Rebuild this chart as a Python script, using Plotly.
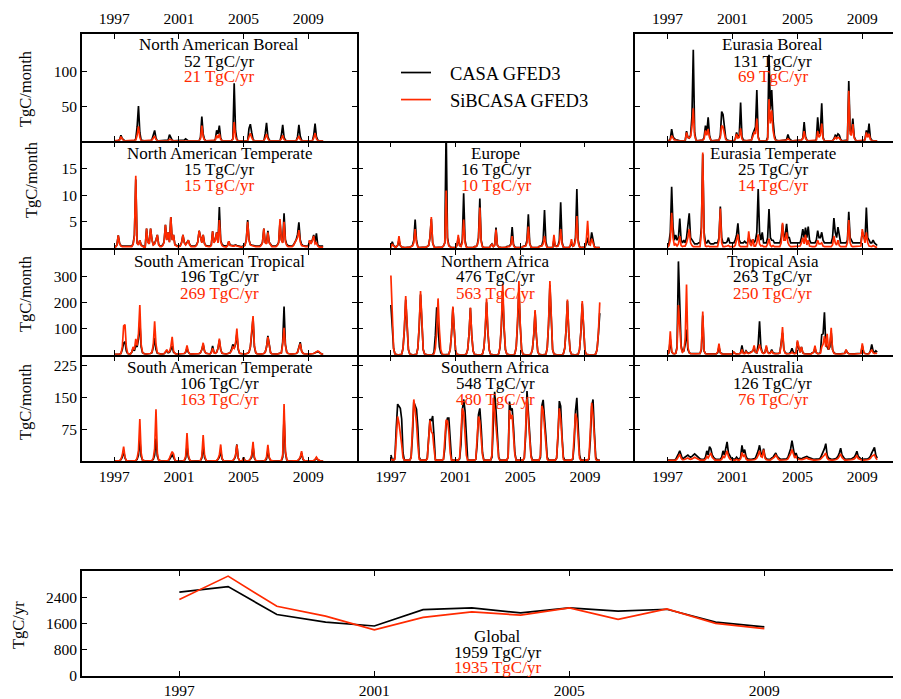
import numpy as np
import plotly.graph_objects as go

# the page body adds an 8px margin, so the figure is drawn 8px in from the window corner
OFF = 8
WIN_W, WIN_H = 901, 699
W, H = WIN_W - OFF, WIN_H - OFF
FONT = "Liberation Serif"
BLACK = "#000000"
RED = "#ff2a00"
LW = 1.7

START_YEAR = 1997
N_YEARS = 13
YEAR_TICKS = [1997, 2001, 2005, 2009]

# ---------------- monthly data (TgC/month), one row per year 1997..2009 ----------------
NAB_CASA = [
    [0,0,0,0,2,8,3,1,0,0,0,0],
    [0,0,0,0,3,20,50,12,1,0,0,0],
    [0,0,0,0,2,10,15,4,0,0,0,0],
    [0,0,0,0,1,9,5,1,0,0,0,0],
    [0,0,0,0,1,3,1,0,0,0,0,0],
    [0,0,0,0,5,35,10,2,0,0,0,0],
    [0,0,0,2,15,10,22,4,0,0,0,0],
    [0,0,0,0,3,83,15,2,0,0,0,0],
    [0,0,0,0,18,24,12,2,0,0,0,0],
    [0,0,0,0,10,26,6,1,0,0,0,0],
    [0,0,0,0,8,23,5,1,0,0,0,0],
    [0,0,0,0,6,23,7,1,0,0,0,0],
    [0,0,0,0,8,25,6,1,0,0,0,0]]
NAB_SIB = [
    [0,0,0,0,1,6,2,0,0,0,0,0],
    [0,0,0,0,1,8,21,5,0,0,0,0],
    [0,0,0,0,1,4,7,2,0,0,0,0],
    [0,0,0,0,0,2,1,0,0,0,0,0],
    [0,0,0,0,0,1,0,0,0,0,0,0],
    [0,0,0,0,3,22,6,1,0,0,0,0],
    [0,0,0,1,8,4,10,2,0,0,0,0],
    [0,0,0,0,2,27,6,1,0,0,0,0],
    [0,0,0,0,6,11,5,1,0,0,0,0],
    [0,0,0,0,4,10,3,0,0,0,0,0],
    [0,0,0,0,3,8,2,0,0,0,0,0],
    [0,0,0,0,3,7,2,0,0,0,0,0],
    [0,0,0,0,4,11,3,0,0,0,0,0]]

EAB_CASA = [
    [0,0,3,17,6,3,2,1,0,0,0,0],
    [0,0,14,5,4,8,35,131,12,1,0,0],
    [0,0,1,5,22,12,34,8,1,0,0,0],
    [0,0,1,8,42,38,15,4,1,0,0,0],
    [0,0,2,12,6,8,55,6,1,0,0,0],
    [0,0,1,10,16,20,73,6,0,0,0,0],
    [0,0,5,124,45,73,30,8,1,0,0,0],
    [0,0,0,1,2,9,3,1,0,0,0,0],
    [0,0,0,1,4,27,6,1,0,0,0,0],
    [0,0,2,34,10,15,54,5,0,0,0,0],
    [0,0,0,3,8,6,10,8,2,0,0,0],
    [0,1,86,15,12,32,6,1,0,0,0,0],
    [0,0,2,15,8,25,4,1,0,0,0,0]]
EAB_SIB = [
    [0,0,1,7.5,3,1,1,0,0,0,0,0],
    [0,0,12,5,4,6,20,47,8,1,0,0],
    [0,0,1,3,15,8,17,5,1,0,0,0],
    [0,0,1,5,22,20,9,2,0,0,0,0],
    [0,0,2,10,4,5,18,3,0,0,0,0],
    [0,0,1,6,12,10,32,4,0,0,0,0],
    [0,0,2,60,25,44,15,4,0,0,0,0],
    [0,0,0,0,1,3,1,0,0,0,0,0],
    [0,0,0,1,3,14,4,1,0,0,0,0],
    [0,0,1,14,5,8,25,3,0,0,0,0],
    [0,0,0,2,5,3,5,4,1,0,0,0],
    [0,0,72,10,8,24,4,1,0,0,0,0],
    [0,0,1,12,5,10,2,0,0,0,0,0]]

NAT_CASA = [
    [0.3,0.3,0.6,2.4,0.9,0.5,0.4,0.4,0.3,0.3,0.3,0.3],
    [0.3,0.4,0.8,2.5,13,1,0.7,1.5,0.6,0.4,0.3,0.3],
    [3.7,1.2,0.9,3.7,1.6,0.7,0.9,1.6,2.5,0.7,0.4,0.4],
    [0.6,1.2,4.4,1.6,3,1.2,5.9,1.6,2.5,0.7,0.5,0.4],
    [0.4,0.5,1.1,2.5,1.1,0.7,1.1,1.5,0.7,0.4,0.4,0.4],
    [0.4,0.6,1.2,3.3,2,1.1,2.5,0.9,0.5,0.4,0.4,0.4],
    [0.6,3.2,1.1,1.6,3,1.1,7.8,1.5,0.7,0.5,0.4,0.4],
    [0.5,1.3,0.6,0.5,0.5,0.5,0.6,0.5,0.4,0.4,0.3,0.3],
    [0.4,0.6,1.6,5.3,1.6,0.7,0.6,0.5,0.4,0.4,0.4,0.4],
    [0.4,0.6,1.1,3.7,1.1,0.9,3.3,1.1,0.6,0.4,0.4,0.4],
    [0.4,0.6,1.1,5,1.6,1.1,6.6,1.6,0.7,0.5,0.4,0.4],
    [0.4,0.6,1.1,1.6,2.6,4.9,1.6,0.7,0.5,0.4,0.4,0.4],
    [0.4,1.5,0.9,1.6,2.5,1.1,2.8,0.6,0.4,0.4,0.4,0.4]]
NAT_SIB = [
    [0.2,0.2,0.5,2.4,0.8,0.4,0.3,0.3,0.2,0.2,0.2,0.2],
    [0.2,0.3,0.7,2.3,13.7,0.9,0.6,1.5,0.5,0.3,0.2,0.2],
    [3.7,1.1,0.8,3.7,1.5,0.6,0.8,1.5,2.5,0.6,0.3,0.3],
    [0.5,1.1,4.4,1.5,3,1.1,5.9,1.5,2.5,0.6,0.4,0.3],
    [0.3,0.4,1,2.5,1,0.6,1,1.5,0.6,0.3,0.3,0.3],
    [0.3,0.5,1.1,3.3,2,1,2.5,0.8,0.4,0.3,0.3,0.3],
    [0.5,3.2,1,1.5,3,1,5.3,1.2,0.5,0.3,0.2,0.2],
    [0.4,1.3,0.5,0.4,0.4,0.4,0.5,0.4,0.3,0.3,0.2,0.2],
    [0.3,0.5,1.5,5,1.5,0.6,0.5,0.4,0.3,0.3,0.3,0.3],
    [0.3,0.5,1,3.7,1,0.8,3,1,0.5,0.3,0.3,0.3],
    [0.3,0.5,1,5.5,1.5,1,5,1.2,0.5,0.3,0.3,0.3],
    [0.3,0.5,1,1.5,2,3.4,1.2,0.5,0.4,0.3,0.3,0.3],
    [0.3,1.5,0.8,1.5,2.3,0.8,1,0.4,0.2,0.2,0.2,0.2]]

EU_CASA = [
    [0.2,1.2,0.5,0.3,0.3,0.5,1.5,0.5,0.2,0.1,0.1,0.1],
    [0.1,0.1,0.2,0.3,0.5,1.5,5.4,1.5,0.3,0.1,0.1,0.1],
    [0.1,0.1,0.2,0.3,0.5,2,5.5,1,0.3,0.1,0.1,0.1],
    [0.1,0.1,0.2,0.4,1,23,2,0.5,0.2,0.1,0.1,0.1],
    [0.1,0.5,2,0.5,0.4,1.5,10.4,1.5,0.3,0.1,0.1,0.1],
    [0.1,0.1,0.3,0.3,0.5,2,9.4,1.5,0.3,0.1,0.1,0.1],
    [0.1,0.1,0.5,0.8,0.3,0.6,3.9,0.6,0.2,0.1,0.1,0.1],
    [0.1,0.1,0.3,0.3,0.4,0.8,4,0.7,0.2,0.1,0.1,0.1],
    [0.1,0.1,0.3,0.4,0.5,1.5,6.4,1,0.2,0.1,0.1,0.1],
    [0.1,0.1,0.3,0.4,0.5,1.5,7.2,1.2,0.2,0.1,0.1,0.1],
    [0.1,1.5,0.4,0.4,0.5,1.5,8.7,1.2,0.2,0.1,0.1,0.1],
    [0.1,0.3,1,0.4,0.6,2,11.2,1.5,0.3,0.1,0.1,0.1],
    [0.2,0.8,2,0.6,1,3,1.2,0.3,0.1,0.1,0.1,0.1]]
EU_SIB = [
    [0.1,0.8,0.4,0.2,0.2,0.5,2.3,0.5,0.2,0.1,0.1,0.1],
    [0.1,0.1,0.2,0.3,0.4,1,3.6,1,0.2,0.1,0.1,0.1],
    [0.1,0.1,0.2,0.3,0.5,2,5.9,1,0.2,0.1,0.1,0.1],
    [0.1,0.1,0.2,0.4,1,10.9,1.5,0.4,0.2,0.1,0.1,0.1],
    [0.1,0.5,2.5,0.5,0.3,1,5.4,1,0.2,0.1,0.1,0.1],
    [0.1,0.1,0.3,0.3,0.5,1.5,7.7,1.2,0.2,0.1,0.1,0.1],
    [0.1,0.1,0.4,0.7,0.3,0.5,3.5,0.5,0.2,0.1,0.1,0.1],
    [0.1,0.1,0.2,0.3,0.3,0.6,2.3,0.5,0.1,0.1,0.1,0.1],
    [0.1,0.1,0.3,0.3,0.4,1,4.1,0.8,0.2,0.1,0.1,0.1],
    [0.1,0.1,0.3,0.3,0.4,0.8,2.3,0.6,0.1,0.1,0.1,0.1],
    [0.1,2.5,0.4,0.3,0.4,1,3.6,0.8,0.2,0.1,0.1,0.1],
    [0.1,0.4,1.7,0.4,0.5,1.5,6.1,1,0.2,0.1,0.1,0.1],
    [0.2,1.5,5.2,0.8,0.6,1.8,0.8,0.2,0.1,0.1,0.1,0.1]]

EAT_CASA = [
    [0.5,1,3,11.6,4,1.5,2.5,1.5,2,5.6,1.5,1],
    [1.5,1,2,4,6.6,2,1.5,1,0.8,0.8,0.8,1],
    [1,4,17.8,3,1,1,1.5,1,0.8,0.8,0.8,1],
    [1,1,2,7.9,2,1,1,1,1.2,2,1,1],
    [1,1,1.5,2.5,4.7,1.5,1,1,1,1.3,1,1],
    [2,1.5,1,1.7,1,1.5,3,11.2,3,1.5,3,1],
    [1,1,2,7.4,2,1.5,1.5,1,1,1,1,1],
    [2,4.5,2,2.5,4.6,2,2,1,1,1,1,1],
    [1,1,1,2,3.6,2,3.9,2,4.1,1.5,1,1],
    [1,1,1.5,3.3,2,2,3,1.5,1,1,1,1],
    [1,1,2,5.7,3,2,4,2,1,1,1,1],
    [1,1.5,6.9,2,1.5,1,1,1,1,1,1,1],
    [3,2,1.5,7.7,2,1.5,1,1,1.5,1,0.8,0.5]]
EAT_SIB = [
    [0.2,0.5,1.5,6.7,2,0.5,0.8,0.4,0.8,2.3,0.5,0.3],
    [0.4,0.4,1,2,3.6,1,0.5,0.3,0.3,0.3,0.3,0.3],
    [0.3,3,18.1,2,0.4,0.3,0.4,0.3,0.3,0.3,0.3,0.3],
    [0.3,0.3,1.5,7.5,1,0.3,0.3,0.3,0.4,0.5,0.3,0.3],
    [0.3,0.3,0.5,1.5,2.6,0.5,0.3,0.3,0.3,0.4,0.3,0.3],
    [3.2,0.8,0.4,1.7,0.4,0.4,1,2.6,0.8,0.4,0.5,0.3],
    [0.3,0.3,0.8,1.8,0.5,0.3,0.5,0.3,0.3,0.3,0.3,0.3],
    [1,4.8,1.5,1.5,3,1,0.5,0.3,0.3,0.3,0.3,0.3],
    [0.3,0.3,0.4,1,2,0.8,2.5,0.6,1.5,0.4,0.3,0.3],
    [0.3,0.3,0.5,1.5,0.8,0.8,1,0.4,0.3,0.3,0.3,0.3],
    [0.3,0.3,0.6,2.3,1,0.6,1.5,0.5,0.3,0.3,0.3,0.3],
    [0.3,1,5.3,1,0.4,0.3,0.3,0.3,0.3,0.3,0.3,0.4],
    [3.6,2,1,3,1,0.4,0.3,0.3,0.5,0.3,0.2,0.2]]

SAT_CASA = [
    [2,2,2,4,3,5,20,45,49,15,5,3],
    [3,10,25,15,35,30,60,128,30,8,4,3],
    [3,3,4,5,8,30,65,20,6,4,3,3],
    [3,4,10,15,8,10,20,34,10,5,3,3],
    [3,3,3,4,5,10,25,10,4,3,3,3],
    [3,3,3,5,8,20,40,15,6,4,3,3],
    [10,34,10,6,10,25,55,20,6,4,3,3],
    [4,5,8,20,40,25,40,80,20,6,4,3],
    [3,3,4,6,10,30,80,140,30,8,4,3],
    [3,3,4,5,10,30,72,30,8,4,3,3],
    [3,3,4,5,8,50,184,40,10,5,3,3],
    [3,3,4,5,10,25,48,15,6,4,3,3],
    [3,3,3,4,5,8,10,12,10,5,3,3]]
SAT_SIB = [
    [2,2,2,4,3,5,30,110,115,30,6,3],
    [3,10,30,20,61,35,80,190,40,10,4,3],
    [3,3,4,5,10,40,128,40,8,4,3,3],
    [3,4,12,20,10,12,30,69,15,5,3,3],
    [3,3,3,4,5,12,36,12,4,3,3,3],
    [3,3,3,5,8,20,46,15,6,4,3,3],
    [8,25,8,6,10,25,62,20,6,4,3,3],
    [4,5,8,15,30,25,45,100,25,6,4,3],
    [3,3,4,6,10,30,90,148,35,8,4,3],
    [3,3,4,5,10,30,68,30,8,4,3,3],
    [3,3,4,5,8,40,103,35,10,5,3,3],
    [3,3,4,5,10,25,43,15,6,4,3,3],
    [3,3,3,4,5,8,12,15,12,5,3,3]]

NAF_CASA = [
    [190,100,25,3,0,0,0,0,2,25,95,210],
    [90,20,3,0,0,0,0,2,25,105,230,95],
    [20,3,0,0,0,0,0,1,10,75,181,90],
    [30,8,1,0,0,0,0,2,20,80,180,75],
    [15,2,0,0,0,0,0,0,3,20,80,178],
    [75,15,2,0,0,0,0,0,3,25,90,200],
    [85,18,2,0,0,0,0,0,4,28,110,240],
    [100,20,3,0,0,0,0,0,4,28,120,250],
    [110,20,2,0,0,0,0,0,3,20,72,165],
    [70,12,2,0,0,0,0,2,25,115,265,105],
    [20,3,0,0,0,0,0,0,4,25,95,205],
    [85,15,2,0,0,0,0,2,20,88,195,80],
    [15,2,0,0,0,0,0,0,3,20,80,159]]
NAF_SIB = [
    [302,130,25,3,0,0,0,0,2,25,100,224],
    [90,20,3,0,0,0,0,2,25,110,243,100],
    [20,3,0,0,0,0,0,0,3,25,90,215],
    [95,20,3,0,0,0,0,2,20,80,184,80],
    [15,2,0,0,0,0,0,0,3,20,80,180],
    [75,15,2,0,0,0,0,0,3,25,95,215],
    [90,18,2,0,0,0,0,0,4,30,120,271],
    [110,20,3,0,0,0,0,0,4,30,130,281],
    [115,20,2,0,0,0,0,0,3,20,75,171],
    [70,12,2,0,0,0,0,2,25,120,281,110],
    [20,3,0,0,0,0,0,0,4,25,95,211],
    [85,15,2,0,0,0,0,2,20,90,205,80],
    [15,2,0,0,0,0,0,0,3,20,85,200]]

TA_CASA = [
    [3,8,60,12,5,4,6,30,356,180,35,12],
    [15,40,96,20,8,5,5,5,5,5,5,5],
    [5,20,150,15,5,4,4,4,4,4,4,4],
    [4,8,30,8,4,3,3,3,3,3,3,3],
    [4,10,5,4,4,4,8,36,8,6,15,8],
    [6,8,10,15,25,10,8,40,128,30,10,6],
    [10,30,10,6,8,20,8,5,5,5,5,8],
    [46,84,20,8,5,5,5,10,25,10,5,8],
    [50,25,10,30,8,5,4,4,4,4,4,8],
    [10,25,8,5,5,8,77,80,162,40,30,20],
    [30,85,20,8,5,4,4,4,4,4,4,6],
    [18,8,5,4,4,4,4,4,4,4,4,6],
    [35,10,5,4,4,5,15,40,15,8,15,10]]
TA_SIB = [
    [3,10,90,15,5,4,6,25,190,90,25,10],
    [15,60,268,30,8,5,4,4,4,4,4,4],
    [5,25,165,15,4,3,3,3,3,3,3,3],
    [4,10,43,8,3,3,3,3,3,3,3,3],
    [3,10,4,3,3,3,5,20,5,4,12,6],
    [5,8,10,15,36,10,8,20,40,20,8,5],
    [8,36,10,5,6,15,6,4,4,4,4,6],
    [40,106,20,6,4,4,4,5,10,5,4,6],
    [55,25,10,30,8,4,3,3,3,3,3,6],
    [10,35,8,4,4,6,30,40,71,30,80,20],
    [40,103,20,6,4,3,3,3,3,3,3,5],
    [20,8,4,3,3,3,3,3,3,3,3,5],
    [44,10,4,3,3,4,10,20,8,5,6,5]]

SAM_CASA = [
    [1,1,1,1,2,4,10,25,8,2,1,1],
    [1,1,1,1,2,5,15,52,12,3,1,1],
    [1,1,1,1,2,5,15,54,12,3,1,1],
    [1,1,1,1,2,5,12,15,10,3,1,1],
    [1,1,1,1,2,8,35,10,3,1,1,1],
    [1,1,1,1,2,8,35,10,3,1,1,1],
    [1,1,1,1,2,5,10,25,6,2,1,1],
    [1,1,1,1,2,5,12,40,8,2,1,1],
    [10,2,1,1,2,5,10,35,8,2,1,1],
    [1,1,1,1,2,6,25,8,2,1,1,1],
    [1,1,1,1,2,10,105,20,4,1,1,1],
    [1,1,1,1,2,4,8,20,5,2,1,1],
    [1,1,1,1,2,4,8,4,2,1,1,1]]
SAM_SIB = [
    [1,1,1,1,2,5,15,35,10,2,1,1],
    [1,1,1,1,2,8,25,100,20,3,1,1],
    [1,1,1,1,2,8,30,123,20,3,1,1],
    [1,1,1,1,2,8,18,23,18,4,1,1],
    [1,1,1,1,3,12,67,15,4,1,1,1],
    [1,1,1,1,3,12,62,15,4,1,1,1],
    [1,1,1,1,2,6,15,40,8,2,1,1],
    [1,1,1,1,2,6,15,39,8,2,1,1],
    [8,2,1,1,2,6,15,46,10,2,1,1],
    [1,1,1,1,3,10,39,10,3,1,1,1],
    [1,1,1,1,3,15,135,25,5,1,1,1],
    [1,1,1,1,2,5,10,24,6,2,1,1],
    [1,1,1,1,2,5,10,5,2,1,1,1]]

SAF_CASA = [
    [15,4,3,10,80,135,130,125,100,20,3,3],
    [3,3,3,10,60,140,130,123,80,10,3,3],
    [3,3,3,8,50,100,95,107,60,5,3,3],
    [3,3,3,5,30,90,102,102,60,5,3,3],
    [3,3,3,6,40,120,146,120,40,3,3,3],
    [3,3,3,5,40,110,125,80,20,3,3,3],
    [3,3,3,10,86,164,120,60,10,3,3,3],
    [3,3,3,10,141,120,125,80,20,3,3,3],
    [3,3,3,8,60,166,120,60,15,3,3,3],
    [3,3,3,10,131,145,110,60,10,3,3,3],
    [3,3,3,8,60,142,130,60,10,3,3,3],
    [3,3,3,5,40,120,150,80,15,3,3,3],
    [3,3,3,5,50,130,146,70,10,3,3,3]]
SAF_SIB = [
    [5,3,3,5,60,106,90,70,40,8,3,3],
    [3,3,3,8,80,146,120,90,40,5,3,3],
    [3,3,3,6,60,97,70,65,30,3,3,3],
    [3,3,3,5,60,98,95,70,20,2,3,3],
    [3,3,3,8,80,125,115,60,15,2,3,3],
    [3,3,3,5,50,106,95,55,15,2,3,3],
    [3,3,3,15,150,120,80,40,8,2,3,3],
    [3,3,3,10,121,100,110,60,15,2,3,3],
    [3,3,3,8,70,148,100,40,10,2,3,3],
    [3,3,3,15,131,120,80,30,5,2,3,3],
    [3,3,3,8,70,125,100,40,5,2,3,3],
    [3,3,3,8,60,113,100,40,8,2,3,3],
    [3,3,3,8,80,138,110,40,5,2,3,3]]

AUS_CASA = [
    [3,3,3,3,3,3,5,10,18,25,12,6],
    [8,10,12,15,12,10,12,15,18,15,12,8],
    [6,5,5,5,10,25,15,35,30,15,10,6],
    [5,5,5,5,10,25,15,35,46,20,12,8],
    [6,5,5,10,6,5,10,38,20,28,12,6],
    [5,5,5,5,6,8,15,25,38,20,15,30],
    [12,6,5,5,5,8,10,15,20,12,8,6],
    [5,5,5,5,6,10,20,30,49,25,12,20],
    [10,8,6,6,8,10,10,12,10,8,6,6],
    [5,5,5,5,6,8,15,25,30,42,15,8],
    [6,5,5,5,6,8,12,20,31,15,10,6],
    [5,5,5,5,6,8,10,15,24,12,8,6],
    [5,5,5,5,6,8,12,20,25,33,15,8]]
AUS_SIB = [
    [2,2,2,2,2,2,3,6,12,17,8,4],
    [4,5,6,8,6,5,6,8,10,8,6,4],
    [3,3,3,3,5,12,8,15,20,10,6,3],
    [3,3,3,3,5,12,8,18,25,12,6,4],
    [3,3,3,5,3,3,6,21,12,15,6,3],
    [3,3,3,3,4,5,8,15,25,12,10,28],
    [8,4,3,3,3,5,6,10,15,8,5,3],
    [3,3,3,3,4,6,12,18,28,15,8,12],
    [6,5,4,4,5,6,6,8,6,5,4,4],
    [3,3,3,3,4,5,8,12,15,20,8,4],
    [3,3,3,3,4,5,7,12,18,9,6,3],
    [3,3,3,3,4,5,6,9,15,7,5,3],
    [3,3,3,3,4,5,7,12,14,16,8,4]]

# Global annual totals (TgC/yr)
G_YEARS = list(range(1997, 2010))
G_CASA = [2550, 2720, 1870, 1640, 1520, 2020, 2070, 1920, 2070, 1970, 2030, 1640, 1490]
G_SIB = [2330, 3040, 2120, 1820, 1400, 1780, 1950, 1850, 2070, 1720, 2040, 1600, 1440]

# panel: name, CASA mean, SiBCASA mean, CASA data, SiBCASA data, row, col
PANELS = [
    ("North American Boreal", 52, 21, NAB_CASA, NAB_SIB, 0, 0),
    ("Eurasia Boreal", 131, 69, EAB_CASA, EAB_SIB, 0, 2),
    ("North American Temperate", 15, 15, NAT_CASA, NAT_SIB, 1, 0),
    ("Europe", 16, 10, EU_CASA, EU_SIB, 1, 1),
    ("Eurasia Temperate", 25, 14, EAT_CASA, EAT_SIB, 1, 2),
    ("South American Tropical", 196, 269, SAT_CASA, SAT_SIB, 2, 0),
    ("Northern Africa", 476, 563, NAF_CASA, NAF_SIB, 2, 1),
    ("Tropical Asia", 263, 250, TA_CASA, TA_SIB, 2, 2),
    ("South American Temperate", 106, 163, SAM_CASA, SAM_SIB, 3, 0),
    ("Southern Africa", 548, 480, SAF_CASA, SAF_SIB, 3, 1),
    ("Australia", 126, 76, AUS_CASA, AUS_SIB, 3, 2),
]
ROW_RANGE = [[0, 154], [0, 20], [0, 400], [0, 247]]
ROW_TICKS = [[50, 100], [5, 10, 15], [100, 200, 300], [75, 150, 225]]
G_TICKS = [0, 800, 1600, 2400]

# ---------------- geometry (window pixels) ----------------
COL_PX = [(81, 357.7), (357.7, 634.3), (634.3, 911.0)]
ROW_PX = [(33, 141.7), (141.7, 249), (249, 355.7), (355.7, 462.3)]
GLOBAL_PX = (81, 911.0, 570, 676.7)
YLABEL_POS = [(25, 89), (32, 180), (25, 294), (25, 402)]

months = START_YEAR + np.arange(N_YEARS * 12) / 12.0

def px(p):
    return (p - OFF) / W

def py(p):
    return 1 - (p - OFF) / H

fig = go.Figure()
NBSP = "\u00a0"
layout = dict(
    width=W, height=H, margin=dict(l=0, r=0, t=0, b=0, autoexpand=False),
    paper_bgcolor="white", plot_bgcolor="white",
    font=dict(family=FONT, size=15.5, color="black"),
    showlegend=True,
    legend=dict(x=px(396), y=py(54), xanchor="left", yanchor="top",
                font=dict(family=FONT, size=18.5, color="black"),
                bgcolor="rgba(0,0,0,0)", borderwidth=0, itemwidth=30,
                tracegroupgap=0),
)
ann = []

axis_common = dict(ticks="inside", ticklen=5, tickwidth=1, tickcolor="black",
                   showline=True, linecolor="black", linewidth=LW,
                   showgrid=False, zeroline=False, fixedrange=True, automargin=False,
                   tickfont=dict(family=FONT, size=15.5, color="black"))

def add_axes(k, xpx0, xpx1, ypx0, ypx1, xrange_full, yrange, yticks,
             xlabels, xside, ylabels, ymirror, xstand):
    xa = "x" if k == 1 else f"x{k}"
    ya = "y" if k == 1 else f"y{k}"
    vis1 = min(xpx1, WIN_W)
    span = (xrange_full[1] - xrange_full[0]) * (vis1 - xpx0) / (xpx1 - xpx0)
    xr = [xrange_full[0], xrange_full[0] + span]
    # axis lines are drawn just outside the plot area: inset by half a line width so
    # that neighbouring panels share one frame line centred on the boundary
    h = LW / 2
    right = vis1 - h if xpx1 <= WIN_W else vis1
    layout["xaxis" if k == 1 else f"xaxis{k}"] = dict(
        axis_common, domain=[px(xpx0 + h), px(right)], anchor=ya, range=xr,
        tickvals=YEAR_TICKS, ticktext=[str(t) for t in YEAR_TICKS],
        mirror="ticks", showticklabels=xlabels, side=xside, ticklabelstandoff=xstand)
    layout["yaxis" if k == 1 else f"yaxis{k}"] = dict(
        axis_common, domain=[py(ypx1 - h), py(ypx0 + h)], anchor=xa, range=yrange,
        tickvals=yticks, ticktext=[str(t) for t in yticks],
        mirror="ticks" if ymirror else False, showticklabels=ylabels,
        ticklabelstandoff=0)
    return xa, ya

for k, (name, mc, ms, casa, sib, r, c) in enumerate(PANELS, start=1):
    x0, x1 = COL_PX[c]
    y0, y1 = ROW_PX[r]
    xa, ya = add_axes(k, x0, x1, y0, y1, [1995, 2012], ROW_RANGE[r], ROW_TICKS[r],
                      xlabels=(r == 0 or r == 3), xside=("top" if r == 0 else "bottom"),
                      ylabels=(c == 0), ymirror=(c < 2), xstand=(2 if r == 0 else 0))
    fig.add_trace(go.Scatter(x=months, y=np.array(casa, float).ravel(), mode="lines",
                             line=dict(color=BLACK, width=1.7), name=NBSP * 3 + "CASA GFED3",
                             legendgroup="casa", showlegend=(k == 1),
                             xaxis=xa, yaxis=ya, hoverinfo="skip"))
    fig.add_trace(go.Scatter(x=months, y=np.array(sib, float).ravel(), mode="lines",
                             line=dict(color=RED, width=1.7), name=NBSP * 3 + "SiBCASA GFED3",
                             legendgroup="sib", showlegend=(k == 1),
                             xaxis=xa, yaxis=ya, hoverinfo="skip"))
    cx = (x0 + x1) / 2
    for dy, txt, col in [(12, name, BLACK), (28, f"{mc} TgC/yr", BLACK), (44, f"{ms} TgC/yr", RED)]:
        ann.append(dict(x=px(cx), y=py(y0 + dy), xref="paper", yref="paper", text=txt,
                        showarrow=False, xanchor="center", yanchor="middle",
                        font=dict(family=FONT, size=17, color=col)))

# global panel
k = len(PANELS) + 1
gx0, gx1, gy0, gy1 = GLOBAL_PX
xa, ya = add_axes(k, gx0, gx1, gy0, gy1, [1995, 1995 + (gx1 - gx0) / 48.8], [0, 3200], G_TICKS,
                  xlabels=True, xside="bottom", ylabels=True, ymirror=False, xstand=0)
fig.add_trace(go.Scatter(x=G_YEARS, y=G_CASA, mode="lines", line=dict(color=BLACK, width=1.7),
                         name="CASA GFED3", showlegend=False, xaxis=xa, yaxis=ya, hoverinfo="skip"))
fig.add_trace(go.Scatter(x=G_YEARS, y=G_SIB, mode="lines", line=dict(color=RED, width=1.7),
                         name="SiBCASA GFED3", showlegend=False, xaxis=xa, yaxis=ya, hoverinfo="skip"))
for yy, txt, col in [(636, "Global", BLACK), (652, "1959 TgC/yr", BLACK), (667, "1935 TgC/yr", RED)]:
    ann.append(dict(x=px(497), y=py(yy), xref="paper", yref="paper", text=txt, showarrow=False,
                    xanchor="center", yanchor="middle", font=dict(family=FONT, size=17, color=col)))

for (lx, ly) in YLABEL_POS:
    ann.append(dict(x=px(lx), y=py(ly), xref="paper", yref="paper", text="TgC/month", textangle=-90,
                    showarrow=False, xanchor="center", yanchor="middle",
                    font=dict(family=FONT, size=16.5, color=BLACK)))
ann.append(dict(x=px(18), y=py(625), xref="paper", yref="paper", text="TgC/yr", textangle=-90,
                showarrow=False, xanchor="center", yanchor="middle",
                font=dict(family=FONT, size=16.5, color=BLACK)))

layout["annotations"] = ann
fig.update_layout(**layout)
fig.write_html("out.html")
